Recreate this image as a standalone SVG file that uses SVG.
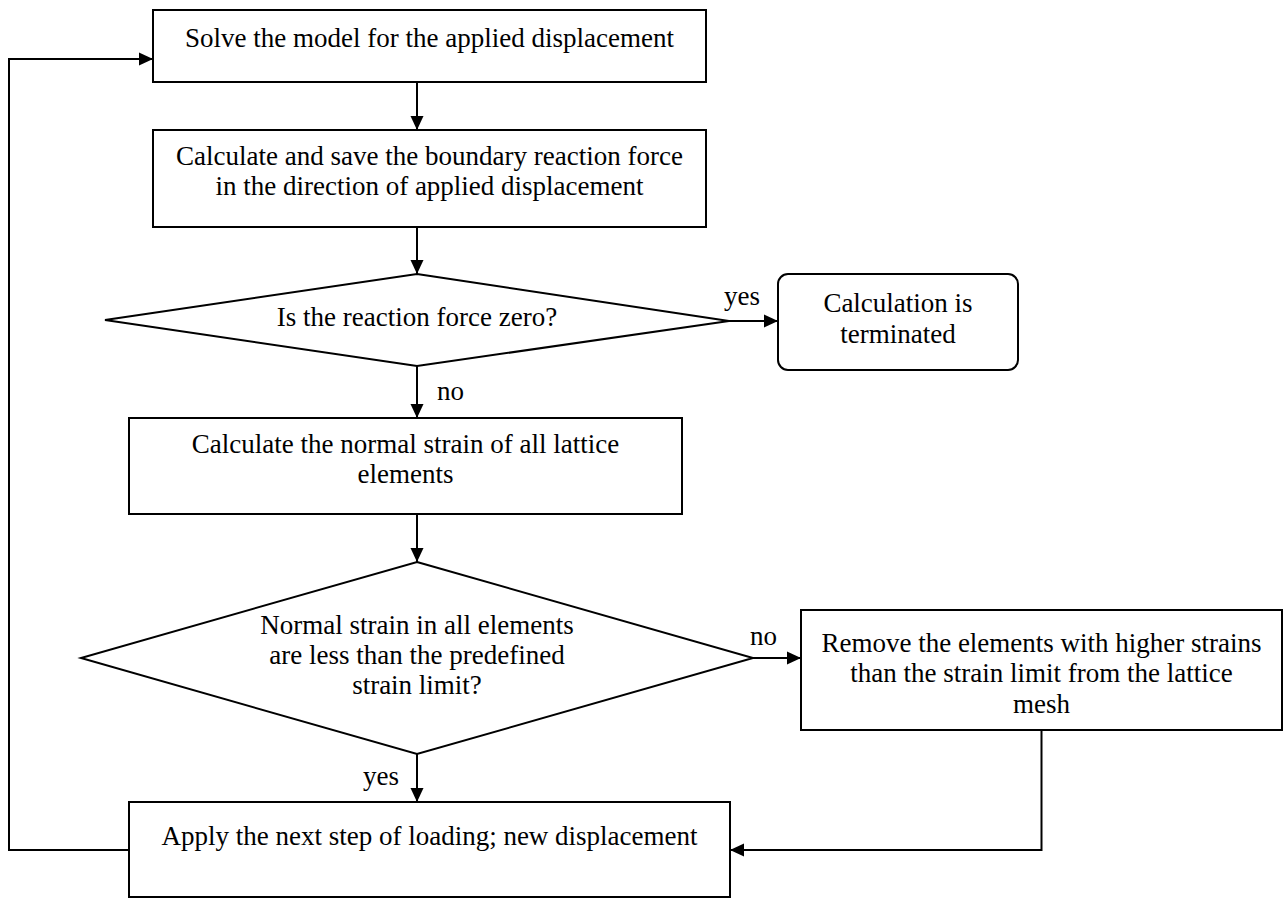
<svg xmlns="http://www.w3.org/2000/svg" width="1284" height="898" viewBox="0 0 1284 898">
  <style>
    .box { fill: #ffffff; stroke: #000000; stroke-width: 2; }
    .edge { fill: none; stroke: #000000; stroke-width: 2; }
    .label { font-family: "Liberation Serif", "Times New Roman", serif; font-size: 27px; fill: #000000; text-anchor: middle; }
    .tag { font-family: "Liberation Serif", "Times New Roman", serif; font-size: 27px; fill: #000000; text-anchor: start; }
  </style>
  <defs>
    <marker id="arrow" viewBox="0 0 14 14" refX="14" refY="7" markerWidth="14" markerHeight="14" markerUnits="userSpaceOnUse" orient="auto">
      <path d="M0,0.5 L14,7 L0,13.5 z" fill="#000000"/>
    </marker>
  </defs>

  <rect width="1284" height="898" fill="#ffffff"/>

  <!-- connectors -->
  <g id="connectors">
    <line class="edge" x1="417" y1="82" x2="417" y2="130" marker-end="url(#arrow)"/>
    <line class="edge" x1="417" y1="227" x2="417" y2="274" marker-end="url(#arrow)"/>
    <line class="edge" x1="729" y1="321" x2="778" y2="321" marker-end="url(#arrow)"/>
    <line class="edge" x1="417" y1="366" x2="417" y2="418" marker-end="url(#arrow)"/>
    <line class="edge" x1="417" y1="514" x2="417" y2="562" marker-end="url(#arrow)"/>
    <line class="edge" x1="753" y1="658" x2="801" y2="658" marker-end="url(#arrow)"/>
    <line class="edge" x1="417" y1="754" x2="417" y2="802" marker-end="url(#arrow)"/>
    <polyline class="edge" points="1041.5,730 1041.5,850 730,850" marker-end="url(#arrow)"/>
    <polyline class="edge" points="129,850 9,850 9,59 153,59" marker-end="url(#arrow)"/>
    <text class="tag" x="724" y="305">yes</text>
    <text class="tag" x="437" y="400">no</text>
    <text class="tag" x="750" y="645">no</text>
    <text class="tag" x="363" y="785">yes</text>
  </g>

  <!-- process steps -->
  <g id="solve">
    <rect class="box" x="153" y="10" width="553" height="72"/>
    <text class="label" x="429.5" y="47">Solve the model for the applied displacement</text>
  </g>

  <g id="reaction">
    <rect class="box" x="153" y="130" width="553" height="97"/>
    <text class="label" x="429.5" y="165">Calculate and save the boundary reaction force</text>
    <text class="label" x="429.5" y="195">in the direction of applied displacement</text>
  </g>

  <g id="zero-check">
    <polygon class="box" points="417,274 729,321 417,366 105,320"/>
    <text class="label" x="417" y="326">Is the reaction force zero?</text>
  </g>

  <g id="terminated">
    <rect class="box" x="778" y="274" width="240" height="96" rx="10" ry="10"/>
    <text class="label" x="898" y="312">Calculation is</text>
    <text class="label" x="898" y="343">terminated</text>
  </g>

  <g id="strain">
    <rect class="box" x="129" y="418" width="553" height="96"/>
    <text class="label" x="405.5" y="453">Calculate the normal strain of all lattice</text>
    <text class="label" x="405.5" y="483">elements</text>
  </g>

  <g id="limit-check">
    <polygon class="box" points="417,562 753,658 417,754 81,658"/>
    <text class="label" x="417" y="634">Normal strain in all elements</text>
    <text class="label" x="417" y="664">are less than the predefined</text>
    <text class="label" x="417" y="694">strain limit?</text>
  </g>

  <g id="remove">
    <rect class="box" x="801" y="610" width="481" height="120"/>
    <text class="label" x="1041.5" y="652">Remove the elements with higher strains</text>
    <text class="label" x="1041.5" y="682">than the strain limit from the lattice</text>
    <text class="label" x="1041.5" y="713">mesh</text>
  </g>

  <g id="next-step">
    <rect class="box" x="129" y="802" width="601" height="95"/>
    <text class="label" x="429.5" y="845">Apply the next step of loading; new displacement</text>
  </g>
</svg>
